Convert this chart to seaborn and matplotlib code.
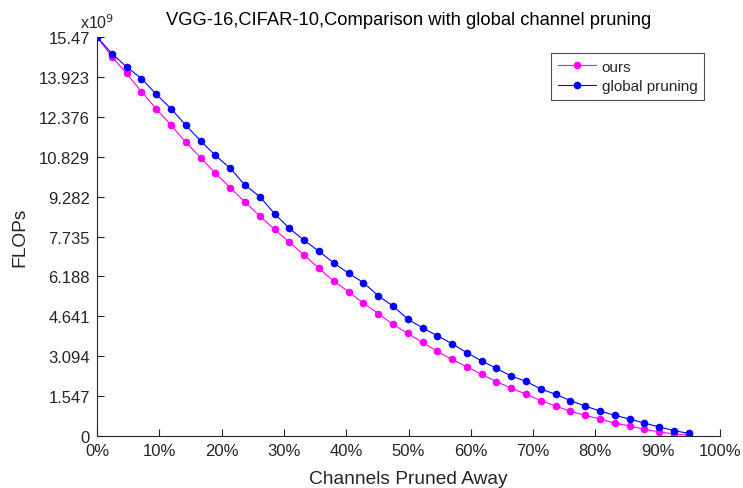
import matplotlib
matplotlib.use("Agg")
import matplotlib.pyplot as plt
import seaborn as sns
import pandas as pd

# Channels pruned away (%)
pruned_pct = [0.0, 2.375, 4.75, 7.125, 9.5, 11.875, 14.25, 16.625, 19.0, 21.375,
              23.75, 26.125, 28.5, 30.875, 33.25, 35.625, 38.0, 40.375, 42.75, 45.125,
              47.5, 49.875, 52.25, 54.625, 57.0, 59.375, 61.75, 64.125, 66.5, 68.875,
              71.25, 73.625, 76.0, 78.375, 80.75, 83.125, 85.5, 87.875, 90.25, 92.625, 95.0]

# FLOPs (x1e9)
ours = [15.47, 14.71, 14.06, 13.35, 12.69, 12.05, 11.39, 10.79, 10.19, 9.63,
        9.07, 8.53, 8.01, 7.52, 7.01, 6.50, 6.00, 5.60, 5.15, 4.75,
        4.33, 3.98, 3.63, 3.28, 2.97, 2.68, 2.39, 2.11, 1.86, 1.62,
        1.37, 1.16, 0.96, 0.80, 0.66, 0.50, 0.39, 0.26, 0.16, 0.08, 0.03]
global_pruning = [15.47, 14.83, 14.31, 13.86, 13.25, 12.69, 12.05, 11.44, 10.88, 10.38,
                  9.73, 9.28, 8.62, 8.05, 7.59, 7.16, 6.71, 6.31, 5.95, 5.44,
                  5.04, 4.54, 4.19, 3.89, 3.58, 3.23, 2.91, 2.62, 2.32, 2.12,
                  1.82, 1.62, 1.37, 1.16, 0.97, 0.80, 0.66, 0.50, 0.35, 0.21, 0.10]

series_names = ["ours", "global pruning"]
series_colors = ["#FF00FF", "#0000FF"]

ytick_vals = [0, 1.547, 3.094, 4.641, 6.188, 7.735, 9.282, 10.829, 12.376, 13.923, 15.47]
ytick_labels = ["0", "1.547", "3.094", "4.641", "6.188", "7.735", "9.282", "10.829", "12.376", "13.923", "15.47"]
xtick_vals = [0, 10, 20, 30, 40, 50, 60, 70, 80, 90, 100]
xtick_labels = [f"{v}%" for v in xtick_vals]

df = pd.DataFrame({
    "pruned": pruned_pct * 2,
    "flops": ours + global_pruning,
    "method": [series_names[0]] * len(ours) + [series_names[1]] * len(global_pruning),
})

sns.set_style("white")
plt.rcParams["font.family"] = ["Liberation Sans", "DejaVu Sans"]
txt = "#262626"

fig = plt.figure(figsize=(7.43, 4.89), dpi=100)
ax = fig.add_axes([0.1306, 0.1063, 0.969 - 0.1306, 0.9223 - 0.1063])

sns.lineplot(data=df, x="pruned", y="flops", hue="method", hue_order=series_names,
             palette=series_colors, marker="o", markersize=5.5, markeredgewidth=0,
             linewidth=0.8, ax=ax, legend=True)

ax.set_xlim(0, 100)
ax.set_ylim(0, 15.47)
ax.set_xticks(xtick_vals)
ax.set_xticklabels(xtick_labels)
ax.set_yticks(ytick_vals)
ax.set_yticklabels(ytick_labels)
ax.tick_params(axis="both", which="major", bottom=True, left=True, direction="in",
               length=5, width=0.8, colors=txt, labelsize=12)
ax.tick_params(axis="x", pad=5)
ax.tick_params(axis="y", pad=5)
for s in ["top", "right"]:
    ax.spines[s].set_visible(False)
for s in ["left", "bottom"]:
    ax.spines[s].set_color(txt)
    ax.spines[s].set_linewidth(0.8)

ax.set_xlabel("Channels Pruned Away", fontsize=13.8, color=txt, labelpad=9)
ax.set_ylabel("FLOPs", fontsize=13.8, color=txt, labelpad=8)
ax.set_title("VGG-16,CIFAR-10,Comparison with global channel pruning", fontsize=13.2,
             color="black", pad=9)
ax.text(-0.028, 1.015, r"x10$^{9}$", transform=ax.transAxes, fontsize=11.5, color=txt,
        ha="left", va="bottom")

leg = ax.legend(loc="upper right", bbox_to_anchor=(0.975, 0.96), frameon=True, fancybox=False,
                edgecolor="#262626", fontsize=11, handlelength=2.5, borderpad=0.45,
                labelspacing=0.35, handletextpad=0.35, borderaxespad=0)
leg.get_frame().set_linewidth(0.8)

fig.savefig("out.png", dpi=100)
